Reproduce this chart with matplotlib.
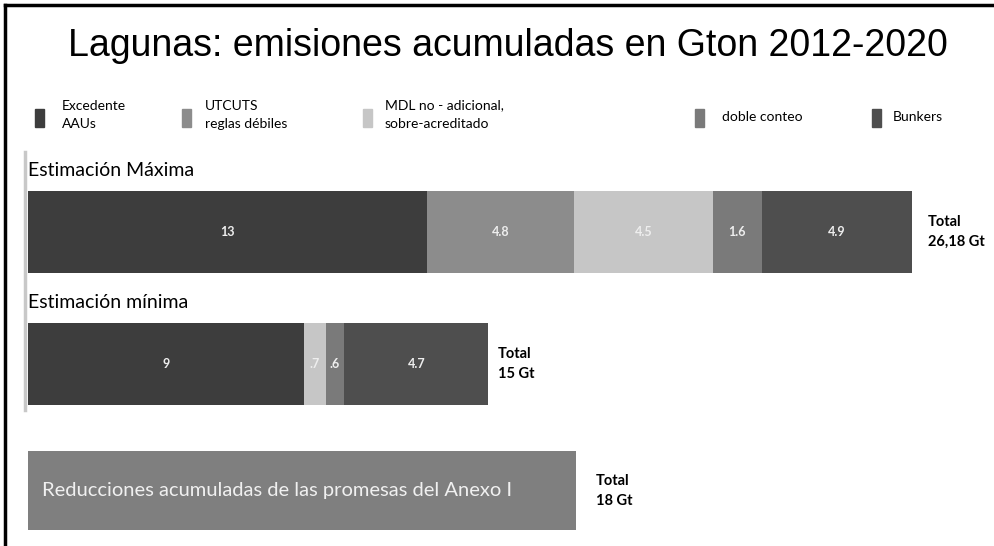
import matplotlib.pyplot as plt
from matplotlib.lines import Line2D
from matplotlib.patches import Rectangle

# Data (Gt CO2e, 2012-2020)
categories = ['Excedente\nAAUs', 'UTCUTS\nreglas débiles', 'MDL no - adicional,\nsobre-acreditado',
              'doble conteo', 'Bunkers']
colors = ['#3d3d3d', '#8c8c8c', '#c6c6c6', '#7a7a7a', '#4e4e4e']

max_vals = [13, 4.8, 4.5, 1.6, 4.9]
max_labels = ['13', '4.8', '4.5', '1.6', '4.9']
min_vals = [9, 0, 0.7, 0.6, 4.7]
min_labels = ['9', '', '.7', '.6', '4.7']
reduction = 18

W, H = 995, 546
fig = plt.figure(figsize=(W / 100, H / 100), dpi=100)
body = 'Lato'


def px(x, y):
    return x / W, 1 - y / H


# axes: 1 Gt = 30.7 px, rows 132 px apart
x0, unit = 28, 30.7
ax = fig.add_axes([x0 / W, 1 - 542 / H, 30 * unit / W, 392 / H])
ax.set_xlim(0, 30)
ax.set_ylim(2.35, -0.62)
ax.axis('off')

bar_h = 0.62
rows = [0, 1]
for row, vals, labs in zip(rows, [max_vals, min_vals], [max_labels, min_labels]):
    left = 0
    for v, lab, c in zip(vals, labs, colors):
        if v > 0:
            ax.barh(row, v, left=left, height=bar_h, color=c, edgecolor='none')
            ax.text(left + v / 2, row, lab, ha='center', va='center',
                    color='#eeeeee', fontsize=9, family=body, fontweight='bold')
        left += v

ax.barh(1.96, reduction, left=-0.15, height=0.6, color='#7f7f7f', edgecolor='none')
ax.text(0.45, 1.96, 'Reducciones acumuladas de las promesas del Anexo I',
        ha='left', va='center', color='#f0f0f0', fontsize=14.5, family=body)

# totals
tot_kw = dict(ha='left', va='center', fontsize=10.5, family=body, fontweight='bold',
              linespacing=1.55)
ax.text(sum(max_vals) + 0.5, 0, 'Total\n26,18 Gt', **tot_kw)
ax.text(sum(min_vals) + 0.3, 1, 'Total\n15 Gt', **tot_kw)
ax.text(reduction + 0.5, 1.96, 'Total\n18 Gt', **tot_kw)

# row titles
fig.text(*px(28, 171), 'Estimación Máxima', ha='left', va='center', fontsize=14, family=body)
fig.text(*px(28, 303), 'Estimación mínima', ha='left', va='center', fontsize=14, family=body)

# title
fig.text(*px(508, 46), 'Lagunas: emisiones acumuladas en Gton 2012-2020', ha='center', va='center',
         fontsize=27, family='Liberation Sans')

# legend
leg_x = [35, 182, 363, 695, 872]
leg_tx = [62, 205, 385, 722, 893]
for c, cat, lx, tx in zip(colors, categories, leg_x, leg_tx):
    fx, fy = px(lx, 127)
    fig.patches.append(Rectangle((fx, fy), 9 / W, 18 / H, color=c, transform=fig.transFigure))
    ty = 115 if '\n' in cat else 117
    fig.text(*px(tx, ty), cat, ha='left', va='center', fontsize=10, family=body,
             linespacing=1.7)

# frame lines and the thin axis line
fig.lines.append(Line2D([5 / W, 5 / W], [0, 1 - 5 / H], color='black', lw=2.5,
                        transform=fig.transFigure))
fig.lines.append(Line2D([5 / W, 1], [1 - 5 / H, 1 - 5 / H], color='black', lw=2.5,
                        transform=fig.transFigure))
fig.lines.append(Line2D([25 / W, 25 / W], [1 - 152 / H, 1 - 410 / H], color='#c8c8c8', lw=2.5,
                        transform=fig.transFigure))

fig.savefig('out.png', dpi=100)
